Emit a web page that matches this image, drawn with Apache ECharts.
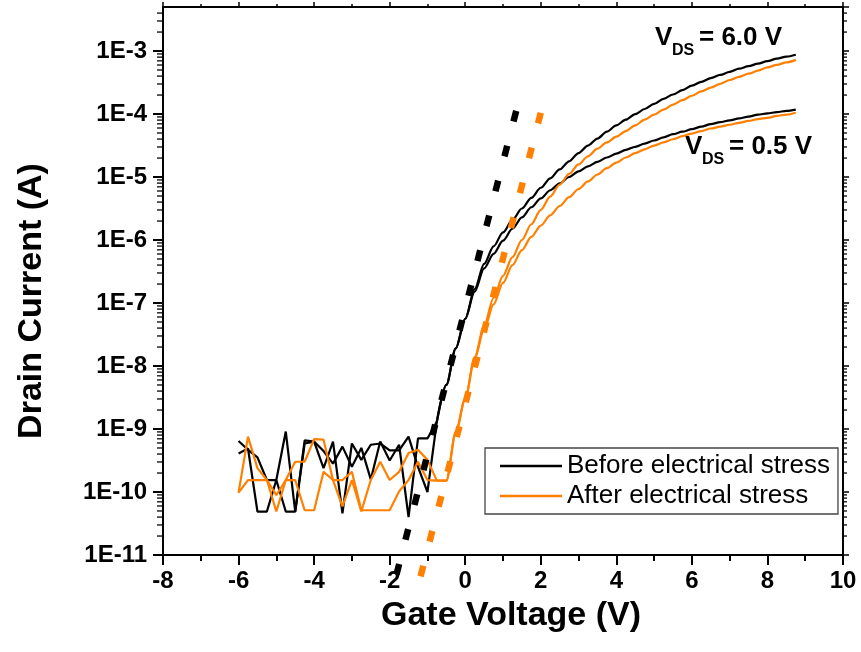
<!DOCTYPE html>
<html><head><meta charset="utf-8">
<script src="https://cdn.jsdelivr.net/npm/echarts@6/dist/echarts.min.js"></script>
<style>html,body{margin:0;padding:0;background:#fff}#c{width:861px;height:652px}</style>
</head><body><div id="c"></div>
<script>
// Gate voltage sweep (V)
const gateVoltage = [-6, -5.75, -5.5, -5.25, -5, -4.75, -4.5, -4.25, -4, -3.75, -3.5, -3.25, -3, -2.75, -2.5, -2.25, -2, -1.75, -1.5, -1.25, -1,
  -0.75, -0.5, -0.25, 0, 0.25, 0.5, 0.75, 1, 1.25, 1.5, 1.75, 2, 2.25, 2.5, 2.75, 3, 3.25, 3.5, 3.75, 4, 4.25, 4.5, 4.75, 5, 5.25, 5.5, 5.75, 6, 6.25, 6.5, 6.75, 7, 7.25, 7.5, 7.75, 8, 8.25, 8.5, 8.75];
const offStateEndIndex = 21; // Vg = -0.75 V: end of the noisy off-state part

// Drain current, stored as log10(I / A)
const beforeVds60_log10A = [-9.19, -9.33, -9.45, -9.81, -9.81, -9.04, -10.31, -9.23, -9.20, -9.62, -9.20, -10.34, -9.23, -9.49, -9.25, -9.23, -9.34, -9.34, -9.12, -9.60, -10.00,
  -8.88, -8.30, -7.72, -7.25, -6.78, -6.38, -6.10, -5.88, -5.68, -5.50, -5.33, -5.17, -5.02, -4.88, -4.75, -4.62, -4.50, -4.39, -4.28, -4.18, -4.09, -4.00, -3.92, -3.84, -3.76, -3.69, -3.62, -3.55, -3.49, -3.43, -3.38, -3.33, -3.28, -3.24, -3.20, -3.16, -3.12, -3.09, -3.06];
const beforeVds05_log10A = [-9.39, -9.31, -10.31, -10.31, -9.81, -10.31, -10.31, -9.18, -9.20, -9.35, -9.55, -9.28, -9.60, -9.30, -9.80, -9.20, -9.50, -9.25, -10.40, -9.15, -9.15,
  -8.88, -8.30, -7.72, -7.25, -6.82, -6.45, -6.22, -6.01, -5.82, -5.64, -5.48, -5.34, -5.21, -5.10, -5.00, -4.91, -4.83, -4.76, -4.69, -4.63, -4.57, -4.52, -4.47, -4.42, -4.37, -4.32, -4.28, -4.24, -4.20, -4.16, -4.13, -4.10, -4.07, -4.04, -4.01, -3.99, -3.97, -3.95, -3.93];
const afterVds60_log10A = [-10.01, -9.12, -9.62, -9.81, -10.31, -9.81, -9.52, -9.52, -9.16, -9.17, -9.81, -10.23, -9.81, -10.31, -9.81, -9.52, -9.81, -9.68, -9.38, -9.33, -9.49,
  -9.82, -9.82, -9.05, -8.52, -7.86, -7.36, -6.92, -6.57, -6.27, -6.00, -5.75, -5.52, -5.31, -5.12, -4.95, -4.80, -4.67, -4.55, -4.45, -4.36, -4.27, -4.18, -4.09, -4.01, -3.93, -3.85, -3.78, -3.71, -3.64, -3.58, -3.52, -3.46, -3.41, -3.36, -3.31, -3.26, -3.22, -3.18, -3.14];
const afterVds05_log10A = [-10.01, -9.81, -9.81, -9.81, -10.05, -9.81, -9.81, -10.29, -10.29, -9.68, -9.81, -9.81, -9.68, -10.29, -10.29, -10.29, -10.29, -9.99, -9.81, -9.52, -9.81,
  -9.82, -9.82, -9.05, -8.52, -7.88, -7.42, -7.02, -6.68, -6.40, -6.16, -5.95, -5.77, -5.61, -5.46, -5.32, -5.19, -5.07, -4.96, -4.86, -4.77, -4.69, -4.62, -4.56, -4.50, -4.45, -4.40, -4.35, -4.31, -4.27, -4.23, -4.20, -4.17, -4.14, -4.11, -4.08, -4.06, -4.03, -4.01, -3.98];

// Subthreshold-slope fit lines: [Vg, log10(I)] end points
const fitBeforeVg = [1.35, -1.85];
const fitBefore_log10A = [-3.95, -11.38];
const fitAfterVg = [2.0, -1.2];
const fitAfter_log10A = [-3.98, -11.38];

// Axis ticks
const xTickValues = [-8, -6, -4, -2, 0, 2, 4, 6, 8, 10];
const yDecades = [-11, -10, -9, -8, -7, -6, -5, -4, -3];
const minorMantissas = [2, 3, 4, 5, 6, 7, 8, 9];

const legendNames = ['Before electrical stress', 'After electrical stress'];
const BLACK = '#000000', ORANGE = '#ff8000';
const FONT = '"Liberation Sans", Arial, sans-serif';
const X_MIN = -8, X_MAX = 10, Y_MIN = 1e-11, Y_MAX = 5e-3;

const pairs = (xs, logs) => xs.map((v, i) => [v, Math.pow(10, logs[i])]);
const minorYValues = [];
yDecades.forEach(d => minorMantissas.forEach(m => { const v = m * Math.pow(10, d); if (v < Y_MAX * 0.999) minorYValues.push(v); }));

const curveParts = (name, color, logs) => {
  const all = pairs(gateVoltage, logs);
  const base = { name, type: 'line', symbol: 'none', color, lineStyle: { color, width: 2.2 }, itemStyle: { color }, z: 3, silent: true };
  return [
    Object.assign({}, base, { data: all.slice(0, offStateEndIndex + 1) }),
    Object.assign({}, base, { data: all.slice(offStateEndIndex), smooth: 0.3, smoothMonotone: 'x' })
  ];
};
const fit = (name, color, xs, logs) => ({
  name, type: 'line', data: pairs(xs, logs), symbol: 'none', color, clip: false,
  lineStyle: { color, width: 6.5, type: [11, 25], cap: 'butt' }, z: 4, silent: true
});
// minor log ticks on the left and right frame, placed through the y scale
const minorTickSeries = (xPos, w, offset) => ({
  name: 'minor-y-ticks', type: 'scatter', silent: true, clip: false, z: 6,
  data: minorYValues.map(v => [xPos, v]),
  symbol: 'rect', symbolSize: [w, 1.6], symbolOffset: [offset, 0],
  itemStyle: { color: '#000' }
});

const tickFont = { fontFamily: FONT, fontWeight: 'bold', fontSize: 24, color: '#000' };
const chart = echarts.init(document.getElementById('c'));
chart.setOption({
  animation: false,
  backgroundColor: '#fff',
  grid: { left: 163, right: 18, top: 7, bottom: 97, containLabel: false },
  xAxis: [{
    type: 'value', min: X_MIN, max: X_MAX, interval: 2, position: 'bottom',
    axisLine: { show: true, onZero: false, lineStyle: { color: '#000', width: 2 } },
    axisTick: { show: true, inside: false, length: 10, lineStyle: { color: '#000', width: 2 } },
    minorTick: { show: true, splitNumber: 2, length: 6, lineStyle: { color: '#000', width: 2 } },
    splitLine: { show: false },
    axisLabel: Object.assign({ margin: 14, formatter: v => xTickValues.includes(v) ? String(v) : '' }, tickFont),
    name: 'Gate Voltage (V)', nameLocation: 'middle', nameGap: 44,
    nameTextStyle: { fontFamily: FONT, fontWeight: 'bold', fontSize: 34, color: '#000', padding: [0, 0, 0, 16] }
  }, {
    type: 'value', min: X_MIN, max: X_MAX, interval: 2, position: 'top',
    axisLine: { show: true, onZero: false, lineStyle: { color: '#000', width: 2 } },
    axisTick: { show: true, inside: false, length: 5, lineStyle: { color: '#000', width: 1.5 } },
    minorTick: { show: true, splitNumber: 2, length: 3, lineStyle: { color: '#000', width: 1.5 } },
    splitLine: { show: false }, axisLabel: { show: false }
  }],
  yAxis: [{
    type: 'log', logBase: 10, min: Y_MIN, max: Y_MAX, splitNumber: 9, position: 'left',
    axisLine: { show: true, onZero: false, lineStyle: { color: '#000', width: 2 } },
    axisTick: { show: true, inside: false, length: 10, lineStyle: { color: '#000', width: 2 } },
    splitLine: { show: false },
    axisLabel: Object.assign({ margin: 16, showMaxLabel: false, formatter: v => '1E' + Math.round(Math.log10(v)) }, tickFont),
    name: 'Drain Current (A)', nameLocation: 'middle', nameGap: 114,
    nameTextStyle: { fontFamily: FONT, fontWeight: 'bold', fontSize: 34, color: '#000', padding: [0, 40, 0, 0] }
  }, {
    type: 'log', logBase: 10, min: Y_MIN, max: Y_MAX, splitNumber: 9, position: 'right',
    axisLine: { show: true, onZero: false, lineStyle: { color: '#000', width: 2 } },
    axisTick: { show: true, inside: false, length: 6, lineStyle: { color: '#000', width: 1.5 } },
    splitLine: { show: false }, axisLabel: { show: false }
  }],
  legend: {
    left: 485, top: 448, orient: 'vertical',
    data: [{ name: legendNames[0], itemStyle: { color: BLACK } }, { name: legendNames[1], itemStyle: { color: ORANGE } }],
    icon: 'rect', itemWidth: 62, itemHeight: 2.5, itemGap: 4,
    padding: [5, 8, 5, 15], borderColor: '#444', borderWidth: 1.3, borderRadius: 0,
    backgroundColor: '#fff',
    textStyle: { fontFamily: FONT, fontSize: 26, color: '#000' },
    selectedMode: false
  },
  series: [].concat(
    curveParts(legendNames[0], BLACK, beforeVds60_log10A),
    curveParts(legendNames[0], BLACK, beforeVds05_log10A),
    curveParts(legendNames[1], ORANGE, afterVds60_log10A),
    curveParts(legendNames[1], ORANGE, afterVds05_log10A),
    [fit('Fit before', BLACK, fitBeforeVg, fitBefore_log10A),
     fit('Fit after', ORANGE, fitAfterVg, fitAfter_log10A),
     minorTickSeries(X_MIN, 6, -3),
     minorTickSeries(X_MAX, 4, 2)]
  ),
  graphic: [
    { type: 'text', left: 655, top: 25, style: { text: 'V', font: 'bold 26px ' + FONT, fill: '#000' } },
    { type: 'text', left: 672, top: 43, style: { text: 'DS', font: 'bold 16px ' + FONT, fill: '#000' } },
    { type: 'text', left: 699, top: 25, style: { text: '= 6.0 V', font: 'bold 26px ' + FONT, fill: '#000' } },
    { type: 'text', left: 685, top: 134, style: { text: 'V', font: 'bold 26px ' + FONT, fill: '#000' } },
    { type: 'text', left: 702, top: 152, style: { text: 'DS', font: 'bold 16px ' + FONT, fill: '#000' } },
    { type: 'text', left: 729, top: 134, style: { text: '= 0.5 V', font: 'bold 26px ' + FONT, fill: '#000' } }
  ]
});
</script></body></html>
